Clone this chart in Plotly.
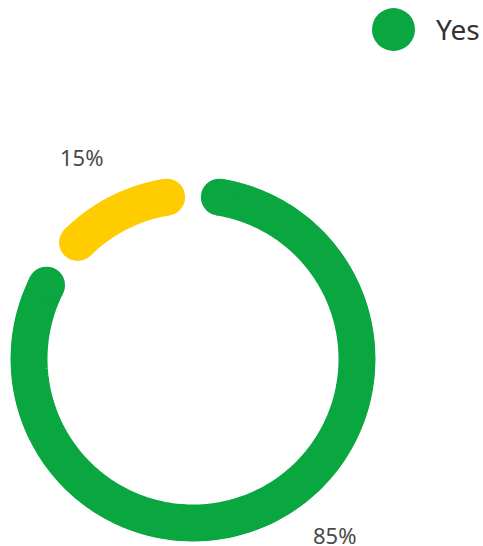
import numpy as np
import plotly.graph_objects as go

# ---- data ----
categories = ["Yes", "No"]
values = [85, 15]
colors = ["#0AA640", "#FFCC00"]
label_texts = ["85%", "15%"]
legend_labels = ["Yes"]

W, H = 483, 546
GAP_DEG = 18.5          # angular gap between cap centres
LINE_W = 37             # ring thickness in px

fig = go.Figure()

total = sum(values)
cum = 0.0
for cat, val, col in zip(categories, values, colors):
    start = cum / total * 360 + GAP_DEG / 2
    end = (cum + val) / total * 360 - GAP_DEG / 2
    cum += val
    theta = np.linspace(start, end, 200)
    r = np.ones_like(theta)
    sizes = np.zeros_like(theta)
    sizes[0] = LINE_W
    sizes[-1] = LINE_W
    fig.add_trace(go.Scatterpolar(
        r=r, theta=theta, mode="lines+markers",
        line=dict(color=col, width=LINE_W),
        marker=dict(color=col, size=sizes, opacity=1, line=dict(width=0)),
        name=cat, showlegend=False, hoverinfo="skip",
    ))

# polar domain: centre (193, 359), outer radius 183 px
cx, cy, R = 193, 359, 183
fig.update_layout(
    width=W, height=H,
    margin=dict(l=0, r=0, t=0, b=0),
    paper_bgcolor="white",
    plot_bgcolor="white",
    font=dict(family="Noto Sans, sans-serif"),
    polar=dict(
        domain=dict(x=[(cx - R) / W, (cx + R) / W],
                    y=[1 - (cy + R) / H, 1 - (cy - R) / H]),
        bgcolor="white",
        radialaxis=dict(visible=False, range=[0, R / 164]),
        angularaxis=dict(visible=False, rotation=90, direction="clockwise"),
    ),
    showlegend=False,
)

# percent labels
fig.add_annotation(x=334 / W, y=1 - 535 / H, xref="paper", yref="paper",
                   xanchor="center", yanchor="middle",
                   text=label_texts[0], showarrow=False,
                   font=dict(size=22, color="#4A4A4A"))
fig.add_annotation(x=81.5 / W, y=1 - 157 / H, xref="paper", yref="paper",
                   xanchor="center", yanchor="middle",
                   text=label_texts[1], showarrow=False,
                   font=dict(size=22, color="#4A4A4A"))

# custom legend
fig.add_shape(type="circle", xref="paper", yref="paper",
              x0=(393.5 - 21.5) / W, x1=(393.5 + 21.5) / W,
              y0=1 - (29.5 + 21.5) / H, y1=1 - (29.5 - 21.5) / H,
              fillcolor=colors[0], line=dict(width=0))
fig.add_annotation(x=434 / W, y=1 - 29 / H, xref="paper", yref="paper",
                   xanchor="left", yanchor="middle",
                   text=legend_labels[0], showarrow=False,
                   font=dict(size=28, color="#333333"))

fig.write_html(
    "out.html",
    config={"displayModeBar": False},
    post_script="document.body.style.margin='0px';document.body.style.overflow='hidden';",
)
